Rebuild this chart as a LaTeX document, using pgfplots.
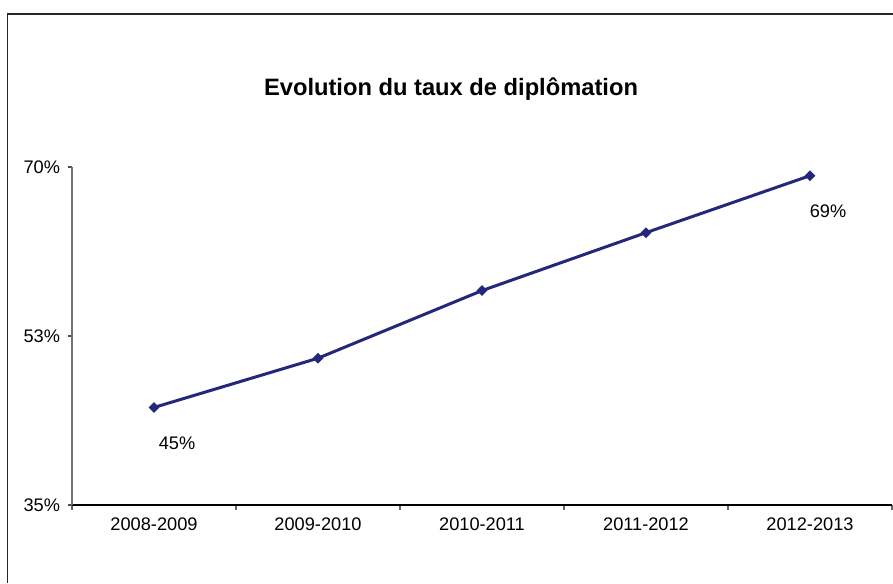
\documentclass[border=0pt]{standalone}
\usepackage{pgfplots}
\pgfplotsset{compat=1.18}
\usepackage{fontspec}
\setmainfont{Liberation Sans}
\definecolor{navy}{RGB}{35,40,122}
\begin{document}
\begin{tikzpicture}
\useasboundingbox (0,0) rectangle (893pt,583pt);
\draw[line width=1.8pt, color=black!85] (7.5pt,0) -- (7.5pt,569pt) -- (893pt,569pt);
\node[font=\fontsize{23.7}{28}\selectfont\bfseries] at (451pt,494pt) {Evolution du taux de diplômation};
\begin{axis}[at={(72pt,78pt)}, anchor=south west, width=820pt, height=338pt, scale only axis,
  xmin=0.5, xmax=5.5, ymin=35, ymax=70,
  axis x line=bottom, axis y line=left, axis line style={-},
  x axis line style={black, line width=1.5pt},
  y axis line style={black!55, line width=2pt},
  xtick={1,2,3,4,5},
  xticklabels={2008-2009,2009-2010,2010-2011,2011-2012,2012-2013},
  minor xtick={0.5,1.5,2.5,3.5,4.5,5.5},
  major x tick style={draw=none},
  minor x tick style={black!60, line width=1.2pt},
  ytick={35,52.5,70},
  yticklabels={35\%,53\%,70\%},
  y tick style={black!70, line width=1.3pt},
  tick align=outside,
  major tick length=4pt, minor tick length=5pt,
  ticklabel style={font=\fontsize{18.2}{21}\selectfont},
  yticklabel style={xshift=-4.5pt},
  xticklabel style={yshift=-5pt},
  /pgf/number format/assume math mode=true,
  clip=false]
\addplot[navy, line width=3pt, mark=square*, mark size=3.3pt, mark options={fill=navy, rotate=45, line width=1pt}]
  coordinates {(1,45.1) (2,50.2) (3,57.2) (4,63.2) (5,69.1)};
\node[font=\fontsize{18.2}{21}\selectfont] at (axis cs:1,45.1) [xshift=23pt, yshift=-36pt] {45\%};
\node[font=\fontsize{18.2}{21}\selectfont] at (axis cs:5,69.1) [xshift=18pt, yshift=-36pt] {69\%};
\end{axis}
\end{tikzpicture}
\end{document}
